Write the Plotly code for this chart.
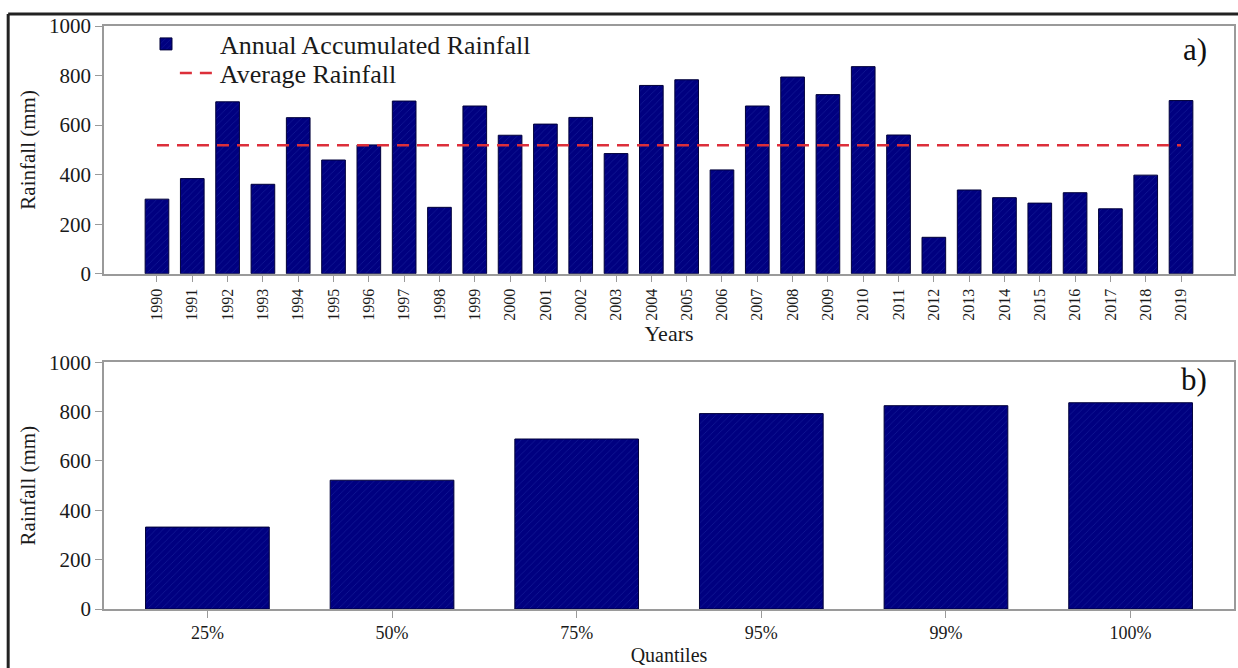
import plotly.graph_objects as go
from plotly.subplots import make_subplots

# Annual accumulated rainfall, 1990-2019 (mm)
years = [str(y) for y in range(1990, 2020)]
annual_rainfall = [301, 384, 694, 361, 630, 459, 520, 697, 268, 677,
                   559, 604, 631, 485, 760, 783, 419, 677, 794, 723,
                   836, 560, 147, 338, 307, 285, 327, 262, 398, 699]
average_rainfall = 519

# Rainfall quantiles (mm)
quantile_labels = ["25%", "50%", "75%", "95%", "99%", "100%"]
quantile_values = [332, 522, 689, 792, 824, 836]

SERIF = "'Liberation Serif', 'Times New Roman', 'DejaVu Serif', serif"
NAVY = "#000080"
AXIS_GRAY = "#9a9a9a"

bar_marker = dict(
    color=NAVY,
    line=dict(color="#00003a", width=1),
    pattern=dict(shape="/", bgcolor=NAVY, fgcolor="#2a3cb0",
                 fgopacity=0.55, size=5, solidity=0.12),
)

fig = make_subplots(rows=2, cols=1)

fig.add_trace(go.Bar(x=years, y=annual_rainfall, marker=bar_marker,
                     name="Annual Accumulated Rainfall", legend="legend"),
              row=1, col=1)
fig.add_trace(go.Scatter(x=years, y=[average_rainfall] * len(years),
                         mode="lines", name="Average Rainfall", legend="legend2",
                         line=dict(color="#dc2f3a", width=2.5, dash="12px,8px")),
              row=1, col=1)
fig.add_trace(go.Bar(x=quantile_labels, y=quantile_values, marker=bar_marker,
                     showlegend=False), row=2, col=1)

axis_common = dict(showline=True, linecolor=AXIS_GRAY, linewidth=1.5,
                   mirror=True, ticks="outside", tickcolor=AXIS_GRAY,
                   ticklen=7, showgrid=False, zeroline=False)

fig.update_xaxes(**axis_common)
fig.update_yaxes(**axis_common)

legend_common = dict(xanchor="left", yanchor="middle", bgcolor="rgba(0,0,0,0)",
                     font=dict(size=26, family=SERIF, color="#1a1a1a"))

fig.update_layout(
    width=1238, height=668,
    margin=dict(l=104, r=2, t=26, b=59),
    paper_bgcolor="white", plot_bgcolor="white",
    bargap=0.33,
    font=dict(family=SERIF, color="#1a1a1a"),
    xaxis=dict(domain=[0, 1], range=[-1.5, 30.5], tickangle=-90,
               tickfont=dict(size=16),
               title=dict(text="Years", font=dict(size=22), standoff=2)),
    yaxis=dict(domain=[0.5751, 1.0], range=[0, 1000], tickvals=[0, 200, 400, 600, 800, 1000],
               tickfont=dict(size=21),
               title=dict(text="Rainfall (mm)", font=dict(size=21), standoff=8)),
    xaxis2=dict(domain=[0, 1], range=[-0.56, 5.56], tickfont=dict(size=18),
                title=dict(text="Quantiles", font=dict(size=20), standoff=6)),
    yaxis2=dict(domain=[0, 0.4232], range=[0, 1000], tickvals=[0, 200, 400, 600, 800, 1000],
                tickfont=dict(size=21),
                title=dict(text="Rainfall (mm)", font=dict(size=21), standoff=8)),
    legend=dict(x=(112 - 104) / 1132, y=(609 - 44) / 583, itemwidth=98,
                **legend_common),
    legend2=dict(x=(175 - 104) / 1132, y=(609 - 73) / 583, itemwidth=35,
                 **legend_common),
    annotations=[
        dict(text="a)", xref="paper", yref="paper", x=0.978, y=0.959,
             xanchor="right", yanchor="middle", showarrow=False,
             font=dict(size=31, family=SERIF, color="#111")),
        dict(text="b)", xref="paper", yref="paper", x=0.978, y=0.393,
             xanchor="right", yanchor="middle", showarrow=False,
             font=dict(size=31, family=SERIF, color="#111")),
    ],
    shapes=[
        # outer frame along the top and left edges
        dict(type="line", xref="paper", yref="paper", x0=-0.0848, x1=1.01,
             y0=1.0206, y1=1.0206, line=dict(color="#222", width=3)),
        dict(type="line", xref="paper", yref="paper", x0=-0.0848, x1=-0.0848,
             y0=1.0206, y1=-0.2, line=dict(color="#222", width=3)),
    ],
)

fig.write_html("out.html")
